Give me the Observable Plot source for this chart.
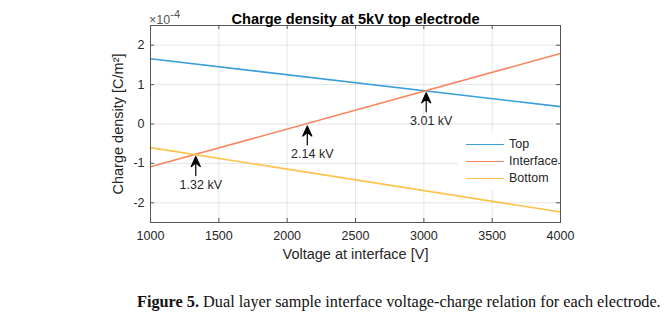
<!DOCTYPE html>
<html><head><meta charset="utf-8">
<script src="https://cdn.jsdelivr.net/npm/d3@7"></script>
<script src="https://cdn.jsdelivr.net/npm/@observablehq/plot@0.6"></script>
<style>
body{margin:0;background:#fff;}
#wrap{position:relative;width:670px;height:327px;overflow:hidden;font-family:"Liberation Sans",Arial,sans-serif;}
#wrap svg{position:absolute;left:0;top:0;}
#expo{position:absolute;left:149px;top:9px;font-size:12.5px;color:#555;}
#expo sup{font-size:11px;position:relative;top:-1px;}
#legend{position:absolute;left:458px;top:133px;width:100px;height:57px;background:#fff;font-size:12.5px;color:#262626;}
.le{position:absolute;left:8px;height:14px;display:flex;align-items:center;}
.le span.sw{display:inline-block;width:38px;height:0;border-top:1.6px solid;margin-right:5px;}
#caption{position:absolute;left:137px;top:293px;font-family:"Liberation Serif","Times New Roman",serif;font-size:16px;color:#111;white-space:nowrap;}
</style></head><body><div id="wrap"></div>
<script>
// ---- data ----
const voltageV = [1000, 4000];
const topCharge = [1.655, 0.44];          // ×1e-4 C/m²
const interfaceCharge = [-1.087, 1.79];
const bottomCharge = [-0.60, -2.234];
const seriesNames = ["Top", "Interface", "Bottom"];
const seriesColors = ["#3b9fda", "#f7865e", "#fdc24a"];
const crossingV = [1324, 2140, 3010];
const crossingQ = [-0.776, 0.0, 0.841];
const crossingLabels = ["1.32 kV", "2.14 kV", "3.01 kV"];
const xTicks = [1000, 1500, 2000, 2500, 3000, 3500, 4000];
const yTicks = [-2, -1, 0, 1, 2];
const titleText = "Charge density at 5kV top electrode";
const xLabel = "Voltage at interface [V]";
const yLabel = "Charge density [C/m²]";

const seriesValues = [topCharge, interfaceCharge, bottomCharge];
const rows = seriesNames.flatMap((s, k) => voltageV.map((v, i) => ({series: s, v, q: seriesValues[k][i]})));
const crossings = crossingV.map((v, i) => ({v, q: crossingQ[i], label: crossingLabels[i]}));

const W = 670, H = 270, mL = 150, mR = 110, mT = 25, mB = 48;
const pw = W - mL - mR, ph = H - mT - mB;
const tickLen = 4;
const axisColor = "#555";

const arrowShape = {
  draw(ctx, l, r) {
    const h = 10, w = 4.5;
    ctx.moveTo(0, 0); ctx.lineTo(0, -l + h * 0.6);
    ctx.moveTo(0, -l); ctx.lineTo(w, -l + h); ctx.lineTo(0, -l + h * 0.62); ctx.lineTo(-w, -l + h); ctx.closePath();
  }
};

const chart = Plot.plot({
  width: W, height: H,
  marginLeft: mL, marginRight: mR, marginTop: mT, marginBottom: mB,
  style: {fontFamily: "Liberation Sans, Arial, sans-serif", fontSize: "12px", color: "#262626", background: "transparent"},
  x: {domain: [1000, 4000]},
  y: {domain: [-2.5, 2.5]},
  color: {domain: seriesNames, range: seriesColors},
  marks: [
    Plot.gridX(xTicks, {stroke: "#000", strokeOpacity: 0.1}),
    Plot.gridY(yTicks, {stroke: "#000", strokeOpacity: 0.1}),
    Plot.tickY(yTicks, {y: d => d, insetRight: pw - tickLen, stroke: axisColor}),
    Plot.tickY(yTicks, {y: d => d, insetLeft: pw - tickLen, stroke: axisColor}),
    Plot.tickX(xTicks, {x: d => d, insetTop: ph - tickLen, stroke: axisColor}),
    Plot.tickX(xTicks, {x: d => d, insetBottom: ph - tickLen, stroke: axisColor}),
    Plot.line(rows, {x: "v", y: "q", z: "series", stroke: "series", strokeWidth: 1.6}),
    Plot.vector(crossings, {x: "v", y: "q", length: 19, rotate: 0, anchor: "end", shape: arrowShape, stroke: "#000", fill: "#000", strokeWidth: 1.2, dy: 2, dx: 1}),
    Plot.text(crossings, {x: "v", y: "q", text: "label", dy: 30, dx: 6, fontSize: 12.5, fill: "#262626"}),
    Plot.frame({stroke: axisColor}),
    Plot.axisX(xTicks, {tickSize: 0, tickPadding: 9, label: null, tickFormat: d => String(d), fontSize: 12.5, fill: "#262626"}),
    Plot.axisY(yTicks, {tickSize: 0, tickPadding: 6, label: null, tickFormat: d => String(d), fontSize: 12.5, fill: "#262626"}),
    Plot.text([titleText], {text: d => d, frameAnchor: "top", dy: -12, fontWeight: "bold", fontSize: 14.6, fill: "#000"}),
    Plot.text([xLabel], {text: d => d, frameAnchor: "bottom", dy: 36, fontSize: 14.5, fill: "#262626"}),
    Plot.text([yLabel], {text: d => d, frameAnchor: "left", textAnchor: "middle", rotate: -90, dx: -32, fontSize: 14.5, fill: "#262626"})
  ]
});

const wrap = document.getElementById("wrap");
wrap.appendChild(chart);

const expo = document.createElement("div");
expo.id = "expo";
expo.innerHTML = "×10<sup>-4</sup>";
wrap.appendChild(expo);

const legend = document.createElement("div");
legend.id = "legend";
seriesNames.forEach((s, i) => {
  const e = document.createElement("div");
  e.className = "le";
  e.style.top = (4 + i * 17) + "px";
  e.innerHTML = `<span class="sw" style="border-color:${seriesColors[i]}"></span><span>${s}</span>`;
  legend.appendChild(e);
});
wrap.appendChild(legend);

const cap = document.createElement("div");
cap.id = "caption";
cap.innerHTML = "<b>Figure 5.</b> Dual layer sample interface voltage-charge relation for each electrode.";
wrap.appendChild(cap);
const target = 524;
const w0 = cap.getBoundingClientRect().width;
cap.style.fontSize = (16 * target / w0).toFixed(2) + "px";
</script>
</body></html>
